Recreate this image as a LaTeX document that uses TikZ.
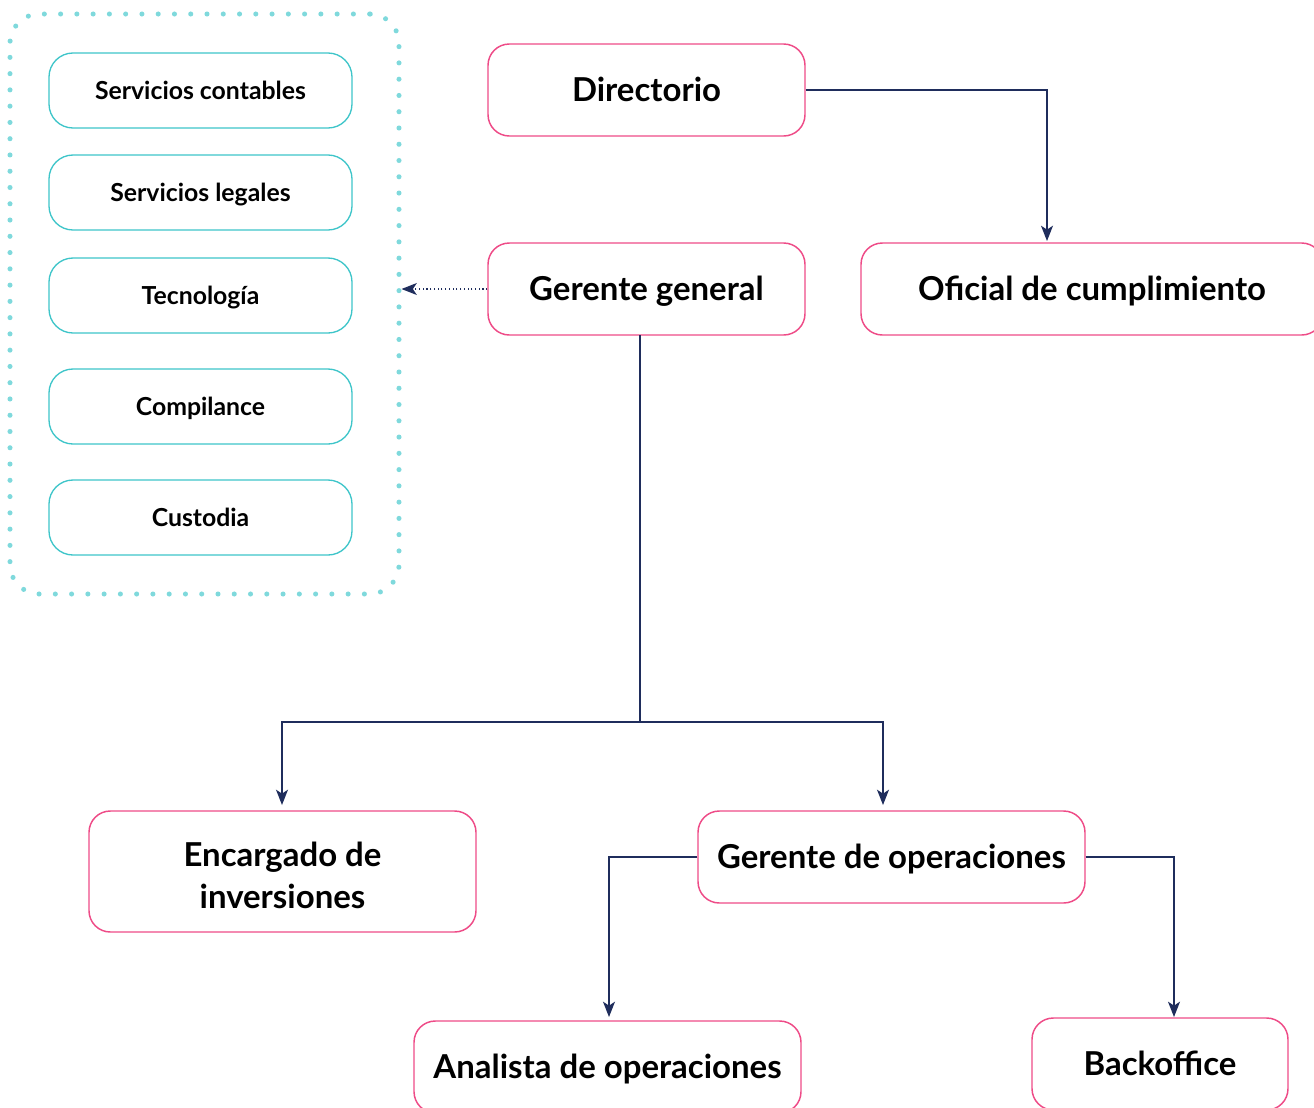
\documentclass[tikz,border=0pt]{standalone}
\usepackage{fontspec}
\setmainfont{Lato}
\usetikzlibrary{arrows.meta}
\definecolor{pinkb}{HTML}{EE4B87}
\definecolor{tealb}{HTML}{3EC5C9}
\definecolor{dotc}{HTML}{7FD9DC}
\definecolor{navy}{HTML}{1F2D5C}
\begin{document}
\begin{tikzpicture}[x=0.75pt,y=-0.75pt,
  pbox/.style={draw=pinkb, line width=1.1pt, rounded corners=16pt, align=center,
    font=\bfseries\fontsize{24.7}{31.5}\selectfont, inner sep=0pt,
    text height=22pt, text depth=4.5pt},
  tbox/.style={draw=tealb, line width=1pt, rounded corners=18pt,
    minimum width=303*0.75pt, minimum height=75*0.75pt,
    font=\bfseries\fontsize{18.6}{22}\selectfont, inner sep=0pt,
    text height=17.8pt, text depth=3.6pt},
  link/.style={draw=navy, line width=1pt},
  conn/.style={link, -{Stealth[length=11.5pt,width=9pt,inset=3pt]}},
  dconn/.style={draw=navy, line width=0.8pt, dotted, -{Stealth[length=11.5pt,width=9pt,inset=3pt]}},
  group/.style={draw=dotc, line width=3.8pt, line cap=round, dash pattern=on 0pt off 12.2pt,
    rounded corners=22pt, inner sep=0pt},
]
\useasboundingbox (0,0) rectangle (1314,1107);

% dotted container
\node[group, minimum width=389*0.75pt, minimum height=580*0.75pt] (grp) at (204.5,304) {};

% teal boxes
\node[tbox] (sc) at (200.5,90.5) {Servicios contables};
\node[tbox] (sl) at (200.5,192.5) {Servicios legales};
\node[tbox] (tec) at (200.5,295.5) {Tecnología};
\node[tbox] (com) at (200.5,406.5) {Compilance};
\node[tbox] (cus) at (200.5,517.5) {Custodia};

% pink boxes
\node[pbox, minimum width=317*0.75pt, minimum height=92*0.75pt] (dir) at (646.5,90) {Directorio};
\node[pbox, minimum width=317*0.75pt, minimum height=92*0.75pt] (gg) at (646.5,289) {Gerente general};
\node[pbox, minimum width=462*0.75pt, minimum height=92*0.75pt] (of) at (1092,289) {Oficial de cumplimiento};
\node[pbox, minimum width=387*0.75pt, minimum height=121*0.75pt, text height=60.5pt] (enc) at (282.5,871.5) {Encargado de\\inversiones};
\node[pbox, minimum width=387*0.75pt, minimum height=92*0.75pt] (gop) at (891.5,857) {Gerente de operaciones};
\node[pbox, minimum width=387*0.75pt, minimum height=92*0.75pt] (ana) at (607.5,1067) {Analista de operaciones};
\node[pbox, minimum width=256*0.75pt, minimum height=92*0.75pt] (back) at (1160,1064) {Backoffice};

% connector coordinates
\coordinate (ofin) at (1047,241);
\coordinate (ggout) at (640,335);
\coordinate (gsplit) at (640,722);
\coordinate (encin) at (282,805);
\coordinate (gopin) at (883,805);
\coordinate (anain) at (609,1017);
\coordinate (backin) at (1174,1017);

\draw[conn] (dir.east) -| (ofin);
\draw[link] (ggout) -- (gsplit);
\draw[conn] (gsplit) -| (encin);
\draw[conn] (gsplit) -| (gopin);
\draw[conn] (gop.west) -| (anain);
\draw[conn] (gop.east) -| (backin);
\draw[dconn] (gg.west) -- (gg.west -| grp.east);
\end{tikzpicture}
\end{document}
